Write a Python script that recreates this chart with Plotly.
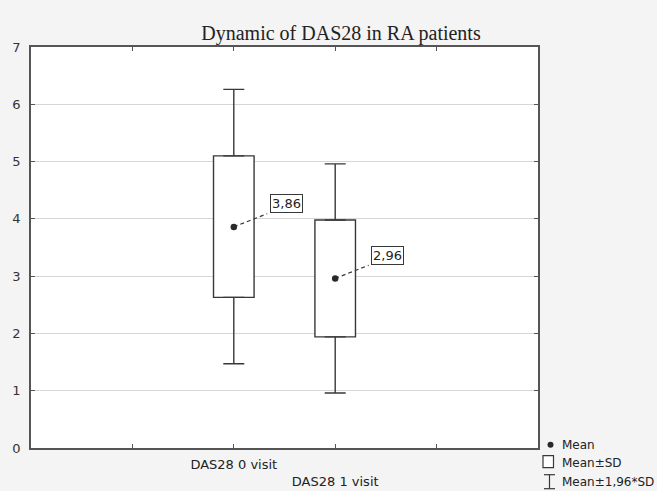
import plotly.graph_objects as go

# ---- data ----
categories = ["DAS28 0 visit", "DAS28 1 visit"]
means = [3.86, 2.96]
sd_low = [2.63, 1.94]
sd_high = [5.10, 3.98]
ci_low = [1.47, 0.96]
ci_high = [6.26, 4.96]
mean_labels = ["3,86", "2,96"]
y_ticks = [0, 1, 2, 3, 4, 5, 6, 7]

# ---- style ----
DARK = "#383838"
AXIS = "#555555"
GRID = "#d6d6d6"
FONT = "DejaVu Sans, Liberation Sans, Arial, sans-serif"

positions = [i + 2 for i in range(len(categories))]

fig = go.Figure()

# whiskers: Mean±1.96*SD drawn as error bars from the box edges
fig.add_trace(go.Scatter(
    x=positions, y=sd_high, mode="markers", marker=dict(size=0.1, opacity=0),
    error_y=dict(type="data", symmetric=False,
                 array=[h - s for h, s in zip(ci_high, sd_high)],
                 arrayminus=[0] * len(positions),
                 color=DARK, thickness=1.4, width=10.5),
    showlegend=False, hoverinfo="skip",
))
fig.add_trace(go.Scatter(
    x=positions, y=sd_low, mode="markers", marker=dict(size=0.1, opacity=0),
    error_y=dict(type="data", symmetric=False,
                 array=[0] * len(positions),
                 arrayminus=[s - l for s, l in zip(sd_low, ci_low)],
                 color=DARK, thickness=1.4, width=10.5),
    showlegend=False, hoverinfo="skip",
))
# boxes: Mean±SD
fig.add_trace(go.Bar(
    x=positions, y=[h - l for h, l in zip(sd_high, sd_low)], base=sd_low,
    width=0.4, marker=dict(color="white", line=dict(color=DARK, width=1.4)),
    showlegend=False, hoverinfo="skip",
))

for i, cat in enumerate(categories):
    fig.add_trace(go.Scatter(
        x=[positions[i], positions[i] + 0.33],
        y=[means[i], means[i] + 0.23],
        mode="lines", line=dict(color=DARK, width=1.2, dash="4px,3px"),
        showlegend=False, hoverinfo="skip",
    ))
    fig.add_annotation(
        x=positions[i] + 0.52, y=means[i] + 0.40, xref="x", yref="y",
        text=mean_labels[i], showarrow=False,
        font=dict(family=FONT, size=13, color="#222"),
        bgcolor="white", bordercolor=DARK, borderwidth=1, borderpad=1,
    )

fig.add_trace(go.Scatter(
    x=positions, y=means, mode="markers",
    marker=dict(color="#2a2a2a", size=6.5),
    showlegend=False, hoverinfo="skip",
))

# ---- manual legend (bottom right, outside plot) ----
L, R, T, B = 31.4, 538.5, 47.3, 448.3
def px(v):
    return (v - L) / (R - L)
def py(v):
    return (B - v) / (B - T)

legend_font = dict(family=FONT, size=12, color="#222")
fig.add_shape(type="circle", xref="paper", yref="paper", layer="above",
              x0=px(548), x1=px(554), y0=py(448), y1=py(442),
              fillcolor="#2a2a2a", line=dict(color="#2a2a2a", width=0))
fig.add_annotation(xref="paper", yref="paper", x=px(561), y=py(445),
                   xanchor="left", yanchor="middle",
                   text="Mean", showarrow=False, font=legend_font)
fig.add_shape(type="rect", xref="paper", yref="paper",
              x0=px(543.5), x1=px(554), y0=py(468), y1=py(456),
              line=dict(color=DARK, width=1.2), fillcolor="white")
fig.add_annotation(xref="paper", yref="paper", x=px(561), y=py(463),
                   xanchor="left", yanchor="middle",
                   text="Mean±SD", showarrow=False, font=legend_font)
fig.add_shape(type="line", xref="paper", yref="paper",
              x0=px(550), x1=px(550), y0=py(489), y1=py(475),
              line=dict(color=DARK, width=1.2))
for yy in (475, 489):
    fig.add_shape(type="line", xref="paper", yref="paper",
                  x0=px(544.5), x1=px(555.5), y0=py(yy), y1=py(yy),
                  line=dict(color=DARK, width=1.2))
fig.add_annotation(xref="paper", yref="paper", x=px(561), y=py(482),
                   xanchor="left", yanchor="middle",
                   text="Mean±1,96*SD", showarrow=False, font=legend_font)

fig.update_layout(
    width=657, height=491,
    margin=dict(l=L, r=657 - R, t=T, b=491 - B),
    paper_bgcolor="#f4f4f4", plot_bgcolor="white",
    title=dict(text="Dynamic of DAS28 in RA patients",
               x=341 / 657, xref="container", xanchor="center",
               y=1 - 33 / 491, yref="container", yanchor="middle",
               font=dict(family="Liberation Serif, Times New Roman, serif",
                         size=20, color="#222")),
    showlegend=False, barmode="overlay",
    xaxis=dict(range=[0, 5], tickvals=[1, 2, 3, 4],
               ticktext=["", categories[0], "<br>" + categories[1], ""],
               ticks="inside", ticklen=4, tickcolor=AXIS,
               ticklabelstandoff=4,
               showline=True, linecolor=AXIS, linewidth=1.5, mirror="ticks",
               showgrid=False, zeroline=False, automargin=False,
               tickfont=dict(family=FONT, size=13, color="#222")),
    yaxis=dict(range=[0, 7], tickvals=y_ticks,
               ticks="inside", ticklen=4, tickcolor=AXIS,
               ticklabelstandoff=6,
               showline=True, linecolor=AXIS, linewidth=1.5, mirror="ticks",
               showgrid=True, gridcolor=GRID, gridwidth=1, zeroline=False,
               automargin=False,
               tickfont=dict(family=FONT, size=13, color="#333")),
)

fig.write_html("out.html", config={"displayModeBar": False},
               post_script="document.body.style.margin='0';document.body.style.padding='0';")
